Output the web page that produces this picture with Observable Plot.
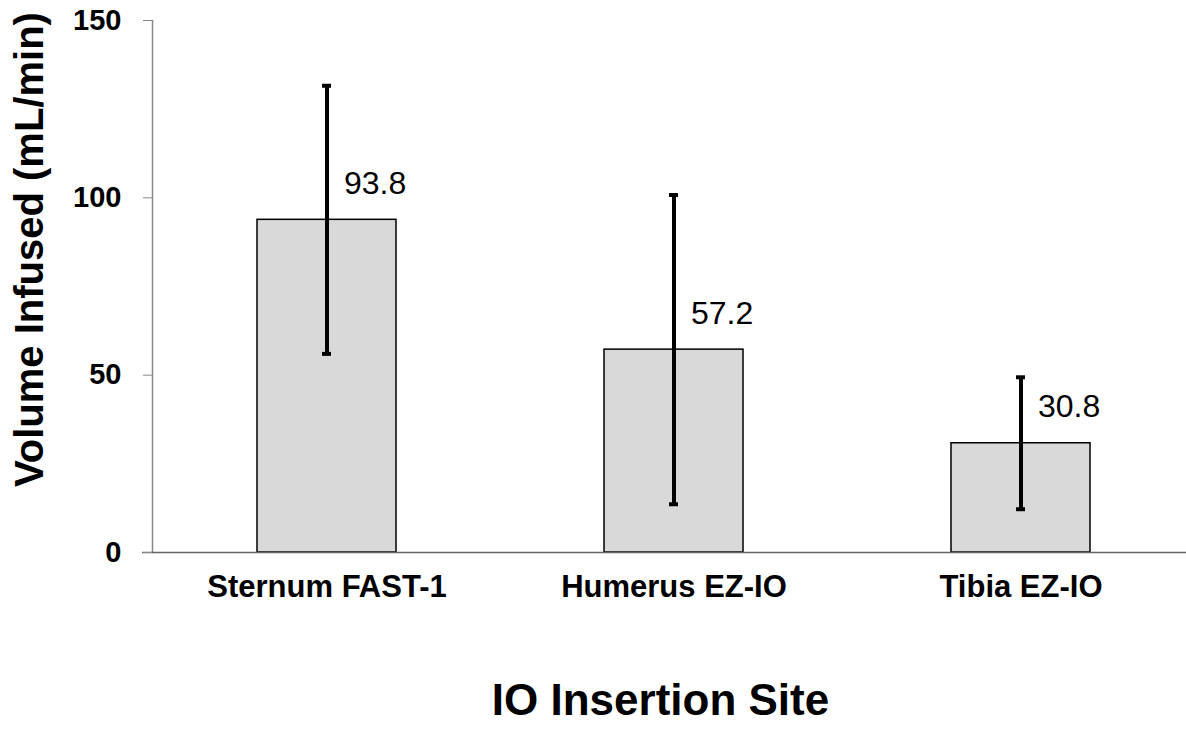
<!DOCTYPE html>
<html>
<head>
<meta charset="utf-8">
<script src="https://cdn.jsdelivr.net/npm/d3@7"></script>
<script src="https://cdn.jsdelivr.net/npm/@observablehq/plot@0.6"></script>
<style>
  html, body { margin: 0; padding: 0; background: #fff; }
  #chart svg { display: block; font-family: "Liberation Sans", Arial, sans-serif; }
</style>
</head>
<body>
<div id="chart"></div>
<script>
const sites = ["Sternum FAST-1", "Humerus EZ-IO", "Tibia EZ-IO"];
const means = [93.8, 57.2, 30.8];
const sds = [37.8, 43.6, 18.6];
const yTicks = [0, 50, 100, 150];

const data = sites.map((s, i) => ({site: s, mean: means[i], lo: means[i] - sds[i], hi: means[i] + sds[i]}));

const chart = Plot.plot({
  width: 1186,
  height: 744,
  marginLeft: 152,
  marginRight: 0,
  marginTop: 20,
  marginBottom: 192,
  style: {fontFamily: "'Liberation Sans', Arial, sans-serif", overflow: "visible"},
  x: {domain: sites, range: [152, 1195], paddingInner: 0.6, paddingOuter: 0.3, label: null},
  y: {domain: [0, 150], label: null},
  marks: [
    Plot.barY(data, {x: "site", y: "mean", fill: "#d9d9d9", stroke: "#000", strokeWidth: 1.5}),
    Plot.frame({anchor: "left", stroke: "#888", strokeWidth: 1.5}),
    Plot.ruleY([0], {stroke: "#666", strokeWidth: 1.5, insetLeft: -10}),
    Plot.axisY({ticks: yTicks, tickSize: 9, tickPadding: 22, stroke: "#888", fill: "#000", fontSize: 29, fontWeight: "bold", label: null}),
    Plot.axisX({tickSize: 0, tickPadding: 22, fontSize: 31, fontWeight: "bold", fill: "#000", label: null}),
    Plot.ruleX(data, {x: "site", y1: "lo", y2: "hi", stroke: "#000", strokeWidth: 4}),
    Plot.tickY(data, {x: "site", y: "lo", stroke: "#000", strokeWidth: 4, insetLeft: 65, insetRight: 65}),
    Plot.tickY(data, {x: "site", y: "hi", stroke: "#000", strokeWidth: 4, insetLeft: 65, insetRight: 65}),
    Plot.text(data, {x: "site", y: "mean", text: d => d.mean.toFixed(1), dx: 17, dy: -26, textAnchor: "start", lineAnchor: "bottom", fontSize: 32, fill: "#000"}),
    Plot.text(["Volume Infused (mL/min)"], {frameAnchor: "left", rotate: -90, dx: -122, dy: -37, fontSize: 40, fontWeight: "bold", fill: "#000", textAnchor: "middle", lineAnchor: "middle"}),
    Plot.text(["IO Insertion Site"], {frameAnchor: "bottom", dx: -9, dy: 148, fontSize: 44, fontWeight: "bold", fill: "#000", textAnchor: "middle", lineAnchor: "middle"})
  ]
});
document.getElementById("chart").appendChild(chart);
</script>
</body>
</html>
